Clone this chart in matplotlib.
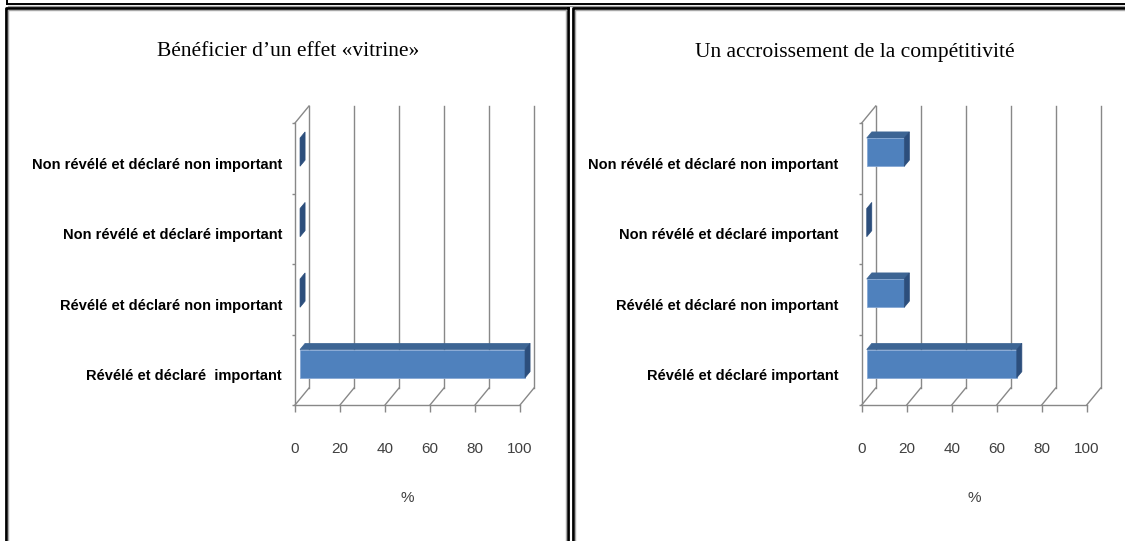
import numpy as np
import matplotlib.pyplot as plt
from matplotlib.patches import Polygon
from matplotlib.lines import Line2D
from matplotlib.transforms import ScaledTranslation

# categories bottom -> top
labels_vitrine = ['Révélé et déclaré  important', 'Révélé et déclaré non important',
                  'Non révélé et déclaré important', 'Non révélé et déclaré non important']
labels_compet = ['Révélé et déclaré important', 'Révélé et déclaré non important',
                 'Non révélé et déclaré important', 'Non révélé et déclaré non important']
values_vitrine = [100, 0, 0, 0]
values_compet = [66.7, 16.7, 0, 16.7]
titles = ['Bénéficier d\u2019un effet «vitrine»', 'Un accroissement de la compétitivité']
xticks = [0, 20, 40, 60, 80, 100]

W, H = 1125, 541
fig = plt.figure(figsize=(W / 100, H / 100), dpi=100)

label_font = ['Liberation Sans', 'DejaVu Sans']
grid_col = '#888888'
front_col = '#4F81BD'
top_col = '#3D6594'
side_col = '#2C4E7C'

# frame / panel borders, drawn in pixel space
frame = fig.add_axes([0, 0, 1, 1])
frame.set_xlim(0, W)
frame.set_ylim(H, 0)
frame.axis('off')
frame.add_line(Line2D([7, W], [4.2, 4.2], color='black', lw=1.4))
frame.add_line(Line2D([7.2, 7.2], [0, 4.2], color='black', lw=1.4))
frame.add_line(Line2D([8, W], [6.2, 6.2], color='#9a9a9a', lw=1.0))
# left panel
frame.add_line(Line2D([6.2, 6.2, 568], [H, 8.3, 8.3], color='black', lw=2.0))
frame.add_line(Line2D([568, 568], [8.3, H], color='black', lw=2.0))
frame.add_line(Line2D([8.2, 8.2, 566], [H, 10.4, 10.4], color='#a8a8a8', lw=1.0))
frame.add_line(Line2D([565.8, 565.8], [10.4, H], color='#a8a8a8', lw=1.0))
# right panel
frame.add_line(Line2D([573, 573, W], [H, 8.3, 8.3], color='black', lw=2.0))
frame.add_line(Line2D([575.2, 575.2, W], [H, 10.4, 10.4], color='#a8a8a8', lw=1.0))


def panel(x_left, labels, values, title, title_x, label_pad):
    # front plane of the axes in pixels
    x0, x1 = x_left, x_left + 225
    y_top, y_bot = 123, 405
    ax = fig.add_axes([x0 / W, (H - y_bot) / H, (x1 - x0) / W, (y_bot - y_top) / H])
    ax.set_xlim(0, 100)
    ax.set_ylim(-0.5, 3.5)
    ax.patch.set_alpha(0)
    for s in ax.spines.values():
        s.set_visible(False)

    # depth of the 3D box, converted from pixels to data units
    dx = 14 / ((x1 - x0) / 100)
    dy = 17 / ((y_bot - y_top) / 4)
    kw = dict(color=grid_col, lw=1.0, clip_on=False, zorder=1)

    for t in xticks:
        ax.plot([t + dx, t + dx], [-0.5 + dy, 3.5 + dy], **kw)
        ax.plot([t, t + dx], [-0.5, -0.5 + dy], **kw)
    ax.plot([0, 100], [-0.5, -0.5], **kw)
    ax.plot([0, 0], [-0.5, 3.5], **kw)
    ax.plot([0, dx], [3.5, 3.5 + dy], **kw)

    # bars
    f1, f2 = 0.36, 0.72
    hw = 0.2
    ddx, ddy = dx * (f2 - f1), dy * (f2 - f1)
    for i, v in enumerate(values):
        bx0 = dx * f1
        bx1 = v + dx * f1
        ya = i - hw + dy * f1
        yb = i + hw + dy * f1
        if v > 0:
            ax.add_patch(Polygon([(bx0, yb), (bx1, yb), (bx1 + ddx, yb + ddy), (bx0 + ddx, yb + ddy)],
                                 closed=True, fc=top_col, ec=top_col, lw=0.5, clip_on=False, zorder=3))
            ax.add_patch(Polygon([(bx0, ya), (bx1, ya), (bx1, yb), (bx0, yb)],
                                 closed=True, fc=front_col, ec='#86A8D4', lw=0.6, clip_on=False, zorder=3))
        ax.add_patch(Polygon([(bx1, ya), (bx1, yb), (bx1 + ddx, yb + ddy), (bx1 + ddx, ya + ddy)],
                             closed=True, fc=side_col, ec=side_col, lw=0.5, clip_on=False, zorder=3))

    ax.set_xticks(xticks)
    ax.set_xticklabels([str(t) for t in xticks], family=label_font, fontsize=11, color='#404040')
    ax.tick_params(axis='x', length=5, width=1.0, color=grid_col, pad=21.5)
    ax.set_yticks(range(len(labels)))
    ax.set_yticklabels(labels, family=label_font, fontsize=10.5, fontweight='bold', color='black',
                       va='center_baseline')
    ax.tick_params(axis='y', length=0, pad=label_pad)
    shift = ScaledTranslation(0, -5 / 100, fig.dpi_scale_trans)
    for lab in ax.get_yticklabels():
        lab.set_transform(lab.get_transform() + shift)
    ax.set_yticks(np.arange(-0.5, 4, 1), minor=True)
    ax.tick_params(axis='y', which='minor', length=2.2, width=1.0, color=grid_col)
    ax.set_xlabel('%', family=label_font, fontsize=11, color='#404040', labelpad=25)

    fig.text(title_x / W, (H - 52) / H, title, family='Liberation Serif', fontsize=15.5,
             ha='center', va='center', color='black')


panel(295, labels_vitrine, values_vitrine, titles[0], 288, 9.4)
panel(861.7, labels_compet, values_compet, titles[1], 855, 17)

fig.savefig('out.png', dpi=100)
